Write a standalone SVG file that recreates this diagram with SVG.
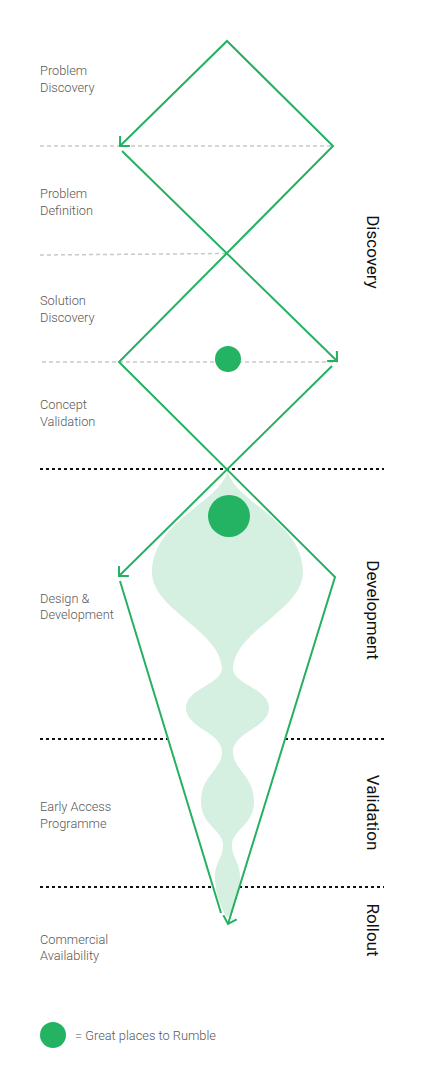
<svg xmlns="http://www.w3.org/2000/svg" width="424" height="1088" viewBox="0 0 424 1088">
<style>
.lbl{font-family:Roboto,"Liberation Sans",sans-serif;font-size:12.8px;font-weight:300;fill:#585858}
.phase{font-family:Roboto,"Liberation Sans",sans-serif;font-size:17px;fill:#111}
.grey{stroke:#c9c9c9;stroke-width:1.5;stroke-dasharray:4 3;fill:none}
.blk{stroke:#111;stroke-width:2;stroke-dasharray:3 3;fill:none}
.flow{stroke:#25b062;stroke-width:2;fill:none;stroke-linejoin:miter}
.dot{fill:#24b263}
</style>
<defs>
<marker id="arr" markerUnits="userSpaceOnUse" viewBox="-10 -10 20 20" markerWidth="20" markerHeight="20" refX="0" refY="0" orient="auto-start-reverse">
<path d="M-7,-7 L0,0 L-7,7" fill="none" stroke="#25b062" stroke-width="2"/>
</marker>
</defs>
<rect width="424" height="1088" fill="#fff"/>
<g id="guides">
<line class="grey" x1="40" y1="146" x2="333" y2="146"/>
<line class="grey" x1="40" y1="255" x2="227" y2="253.5"/>
<line class="grey" x1="42" y1="362" x2="337" y2="362"/>
<line class="blk" x1="40" y1="469" x2="384" y2="469"/>
<line class="blk" x1="40" y1="739" x2="168" y2="739"/>
<line class="blk" x1="285" y1="739" x2="384" y2="739"/>
<line class="blk" x1="40" y1="887" x2="212" y2="887"/>
<line class="blk" x1="239" y1="887" x2="384" y2="887"/>
</g>
<g id="shape">
<path fill="#d5efe0" d="M227.5,469 C230,500 303,520 303,572 C303,610 235,630 233,668 C233,685 269,688 269,708 C269,728 233,732 233,752 C233,770 254,775 254,802 C254,825 232,830 232,845 C232,858 240,862 240,877 C240,895 233,910 227.5,918 C222,910 215,895 215,877 C215,862 223,858 223,845 C223,830 201,825 201,802 C201,775 222,770 222,752 C222,732 186,728 186,708 C186,688 222,685 222,668 C220,630 152,610 152,572 C152,520 225,500 227.5,469 Z"/>
</g>
<g id="connectors">
<path class="flow" d="M120,146 L227,41 L333,146 L119,362 L335,577 L228,924" marker-start="url(#arr)" marker-end="url(#arr)"/>
<path class="flow" d="M122,151 L337,361" marker-end="url(#arr)"/>
<path class="flow" d="M332,366 L119,576" marker-end="url(#arr)"/>
<path class="flow" d="M120,581 L221,913"/>
</g>
<g id="rumble-spots">
<circle class="dot" cx="228" cy="359" r="13"/>
<circle class="dot" cx="229" cy="516" r="21"/>
</g>
<g id="stage-labels">
<text class="lbl" x="40" y="74.5">Problem</text>
<text class="lbl" x="40" y="91.5">Discovery</text>
<text class="lbl" x="40" y="198">Problem</text>
<text class="lbl" x="40" y="215">Definition</text>
<text class="lbl" x="40" y="305">Solution</text>
<text class="lbl" x="40" y="322">Discovery</text>
<text class="lbl" x="40" y="408.5">Concept</text>
<text class="lbl" x="40" y="425.5">Validation</text>
<text class="lbl" x="40" y="602.5">Design &amp;</text>
<text class="lbl" x="40" y="619">Development</text>
<text class="lbl" x="40" y="810.5">Early Access</text>
<text class="lbl" x="40" y="827.5">Programme</text>
<text class="lbl" x="40" y="943.5">Commercial</text>
<text class="lbl" x="40" y="960">Availability</text>
</g>
<g id="phase-labels">
<text class="phase" text-anchor="middle" transform="translate(367,252) rotate(90)">Discovery</text>
<text class="phase" text-anchor="middle" transform="translate(367,610) rotate(90)">Development</text>
<text class="phase" text-anchor="middle" transform="translate(367,812.5) rotate(90)">Validation</text>
<text class="phase" text-anchor="middle" transform="translate(367,930) rotate(90)">Rollout</text>
</g>
<g id="legend">
<circle class="dot" cx="53" cy="1035" r="13"/>
<text class="lbl" x="75" y="1039.5">= Great places to Rumble</text>
</g>
</svg>
